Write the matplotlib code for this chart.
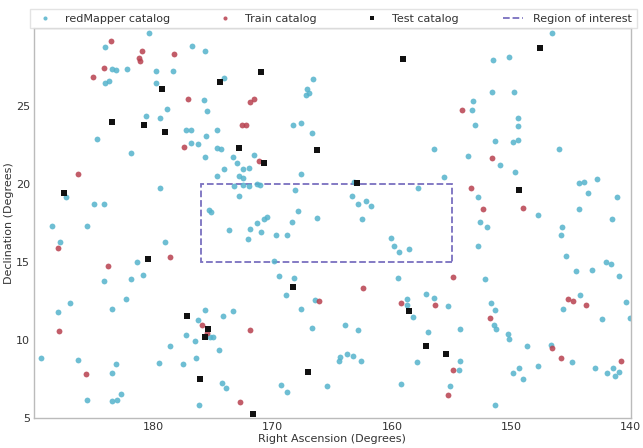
import matplotlib
matplotlib.use("Agg")
import matplotlib.pyplot as plt
from matplotlib.patches import Rectangle

# redMapper clusters (RA, Dec in degrees)
rm_ra = [180.36, 184.04, 176.74, 175.71, 183.45, 183.17, 182.19, 179.81, 178.37, 184.04,
         183.76, 179.81, 174.11, 175.79, 175.54, 178.85, 180.65, 179.44, 177.31, 176.86,
         174.64, 175.56, 184.69, 176.86, 176.30, 174.67, 174.33, 181.85, 175.68, 174.05,
         174.67, 179.44, 187.30, 184.97, 184.10, 175.34, 175.18,
         166.64, 167.14, 167.22, 166.95, 168.32, 167.60, 166.70, 173.37, 171.58, 172.99,
         172.48, 172.03, 172.82, 172.49, 167.65, 173.26, 172.49, 172.03, 171.30, 171.07,
         168.15, 172.82, 163.22, 163.39, 162.88, 162.17, 161.75, 157.85, 167.85, 170.51,
         166.27, 162.54,
         146.57, 151.54, 150.19, 151.65, 149.80, 153.20, 153.33, 149.49, 149.49, 153.05,
         151.34, 149.88, 149.46, 156.48, 146.01, 153.67, 150.95, 149.66, 155.66, 144.30,
         143.88, 142.84, 143.60, 141.16, 152.78, 147.75, 144.38, 141.54,
         188.50, 185.56, 187.83, 179.01, 181.37, 184.15, 181.85, 180.84, 182.27, 186.96,
         188.02, 183.48, 175.71, 174.16, 176.30, 177.25, 175.23, 175.01, 176.49, 174.47,
         178.65, 189.46, 186.29, 176.44, 183.17, 179.52, 177.56, 183.45, 174.27, 173.96,
         182.72, 185.56, 183.51, 183.03, 176.19,
         170.74, 173.63, 171.89, 171.35, 168.40, 171.01, 172.06, 169.70, 168.80, 160.10,
         159.82, 159.45, 158.59, 169.92, 169.45, 168.19, 159.48, 168.86, 166.47, 158.72,
         158.72, 158.27, 167.62, 173.29, 166.70, 163.97, 162.82, 157.88, 164.40, 164.45,
         163.77, 163.27, 162.63, 169.31, 168.80, 165.43, 159.22,
         152.61, 152.07, 145.75, 145.84, 152.78, 145.47, 142.11, 141.66, 144.58, 143.29,
         140.95, 152.19, 157.18, 156.48, 155.30, 151.68, 151.39, 144.24, 145.70, 140.42,
         140.06, 142.39, 151.43, 151.26, 154.29, 157.01, 150.25, 150.19, 148.73, 146.68,
         144.94, 154.32, 154.40, 147.77, 149.37, 149.85, 149.04, 142.97, 142.00, 141.49,
         140.95, 141.32, 155.16, 151.39]
rm_dec = [29.66, 28.78, 28.85, 28.53, 27.39, 27.31, 27.35, 27.22, 27.26, 26.45,
          26.58, 26.45, 26.77, 25.40, 24.68, 24.83, 24.34, 24.21, 23.48, 23.44,
          23.44, 23.10, 22.88, 22.65, 22.56, 22.33, 22.26, 22.01, 21.73, 20.98,
          20.53, 19.72, 19.19, 18.70, 18.70, 18.31, 18.19,
          26.71, 26.11, 25.72, 25.81, 23.76, 23.93, 23.27, 21.75, 21.88, 21.37,
          20.98, 21.00, 20.53, 20.38, 20.66, 19.89, 19.95, 19.87, 20.02, 19.94,
          19.63, 19.23, 20.11, 19.23, 18.74, 18.89, 18.61, 19.76, 18.29, 17.87,
          17.84, 17.76,
          29.66, 27.93, 28.12, 25.88, 25.90, 25.32, 24.76, 24.23, 23.72, 23.76,
          22.74, 22.71, 22.80, 22.22, 22.26, 21.77, 21.22, 20.79, 20.47, 20.04,
          20.13, 20.34, 19.40, 19.17, 19.19, 17.99, 18.38, 17.74,
          17.31, 17.31, 16.26, 16.26, 14.98, 13.80, 13.91, 14.15, 12.61, 12.35,
          11.78, 11.99, 11.90, 11.54, 11.26, 10.34, 10.17, 10.21, 9.94, 9.36,
          9.63, 8.85, 8.72, 8.83, 8.44, 8.51, 8.44, 7.90, 7.22, 6.90,
          6.52, 6.13, 6.07, 6.15, 5.81,
          17.78, 17.05, 17.10, 17.48, 17.54, 16.90, 16.49, 16.71, 16.71, 16.54,
          16.04, 15.64, 15.85, 15.08, 14.12, 13.99, 13.95, 12.88, 12.56, 12.61,
          12.26, 11.49, 11.97, 11.88, 10.79, 10.98, 10.64, 8.57, 8.93, 8.65,
          9.10, 8.99, 8.63, 7.12, 6.65, 7.05, 7.20,
          17.56, 17.22, 17.22, 16.71, 16.04, 15.37, 14.98, 14.85, 14.42, 14.47,
          14.10, 13.89, 12.93, 12.71, 12.18, 12.37, 11.90, 12.87, 11.97, 12.42,
          11.43, 11.33, 10.96, 10.70, 10.70, 10.53, 10.37, 10.04, 9.60, 9.70,
          8.59, 8.67, 8.10, 8.33, 8.21, 7.87, 7.48, 8.19, 7.87, 8.22,
          7.93, 7.71, 7.07, 5.83]

# training clusters
train_ra = [183.56, 180.93, 178.26, 181.18, 181.12, 184.10, 185.03, 177.08, 177.41, 186.32,
            171.89, 171.60, 172.59, 172.25, 171.13, 154.12, 151.62, 153.42, 152.38, 149.07,
            188.02, 178.59, 183.81, 175.90, 175.54, 187.94, 185.67, 162.43, 166.11, 159.26,
            171.92, 172.78, 154.88, 156.40, 145.25, 144.86, 143.79, 151.76, 146.59, 145.84,
            140.79, 154.88, 155.35]
train_dec = [29.19, 28.54, 28.33, 28.10, 27.91, 27.45, 26.86, 25.43, 22.37, 20.64,
             25.28, 25.43, 23.76, 23.80, 21.45, 24.74, 21.65, 19.72, 18.40, 18.48,
             15.90, 15.32, 14.76, 10.98, 10.43, 10.56, 7.82, 13.35, 12.52, 12.39,
             10.66, 6.01, 14.02, 12.22, 12.63, 12.48, 12.22, 11.43, 9.51, 8.87,
             8.67, 8.06, 6.47]

# test clusters
test_ra = [179.27, 174.38, 183.48, 180.78, 179.01, 187.47, 159.09, 170.96, 172.87, 166.30,
           170.71, 162.90, 147.64, 149.35, 180.45, 177.20, 175.45, 175.68, 176.10, 168.30,
           158.59, 167.01, 171.69, 157.15, 155.52]
test_dec = [26.07, 26.52, 23.95, 23.78, 23.35, 19.40, 28.01, 27.16, 22.33, 22.16,
            21.37, 20.08, 28.74, 19.60, 15.17, 11.56, 10.71, 10.17, 7.50, 13.40,
            11.84, 7.97, 5.26, 9.62, 9.12]

# region of interest box
roi_ra = [155, 176]
roi_dec = [15, 20]

plt.rcParams["font.family"] = "DejaVu Sans"
fig = plt.figure(figsize=(6.43, 4.48), dpi=100)
ax = fig.add_axes([0.053, 0.067, 0.928, 0.8705])

ax.plot(rm_ra, rm_dec, "o", color="#55b3cc", markersize=4.2, alpha=0.85,
        markeredgewidth=0, label="redMapper catalog")
ax.plot(train_ra, train_dec, "o", color="#b8404f", markersize=4.2, alpha=0.85,
        markeredgewidth=0, label="Train catalog")
ax.plot(test_ra, test_dec, "s", color="#111111", markersize=4.6,
        markeredgewidth=0, label="Test catalog")

box = Rectangle((roi_ra[0], roi_dec[0]), roi_ra[1] - roi_ra[0], roi_dec[1] - roi_dec[0],
                fill=False, edgecolor="#7a6fbf", linestyle="--", linewidth=1.3)
ax.add_patch(box)
ax.plot([], [], "--", color="#7a6fbf", linewidth=1.3, label="Region of interest")

ax.set_xlim(190, 140)
ax.set_ylim(5, 30)
ax.set_xticks([180, 170, 160, 150, 140])
ax.set_yticks([5, 10, 15, 20, 25])
ax.tick_params(length=0, labelsize=8, colors="#333333", pad=3)
for s in ax.spines.values():
    s.set_color("#bbbbbb")
    s.set_linewidth(1.0)

ax.set_xlabel("Right Ascension (Degrees)", fontsize=8, color="#333333", labelpad=1)
ax.set_ylabel("Declination (Degrees)", fontsize=8, color="#333333", labelpad=1)

leg = ax.legend(loc="lower left", bbox_to_anchor=(-0.006, 1.0, 1.016, 0.06), mode="expand",
                ncol=4, fontsize=8, borderaxespad=0, frameon=True, fancybox=False,
                markerscale=0.7, handlelength=1.8, handletextpad=0.9)
leg.get_frame().set_edgecolor("#dddddd")
for t in leg.get_texts():
    t.set_color("#333333")

plt.savefig("out.png", dpi=100)
